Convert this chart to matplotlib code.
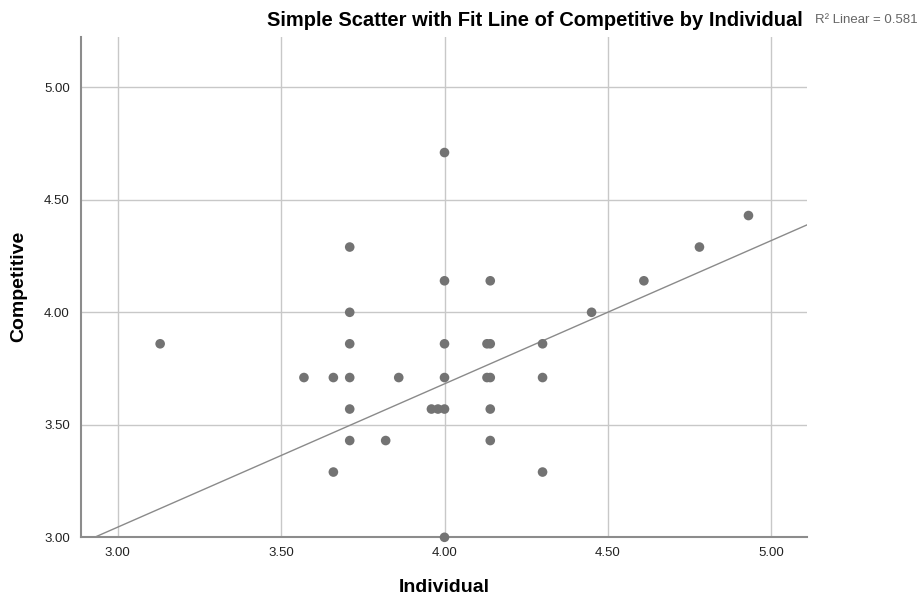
import numpy as np
import matplotlib.pyplot as plt

plt.rcParams['font.family'] = ['Liberation Sans', 'DejaVu Sans']

individual = [3.13, 3.57, 3.66, 3.66, 3.71, 3.71, 3.71, 3.71, 3.71, 3.71,
              3.82, 3.86, 3.96, 3.98, 4.00, 4.00, 4.00, 4.00, 4.00, 4.00,
              4.13, 4.14, 4.13, 4.14, 4.14, 4.14, 4.14, 4.30, 4.30, 4.30,
              4.45, 4.61, 4.78, 4.93]
competitive = [3.86, 3.71, 3.71, 3.29, 4.29, 4.00, 3.86, 3.71, 3.57, 3.43,
               3.43, 3.71, 3.57, 3.57, 4.71, 4.14, 3.86, 3.71, 3.57, 3.00,
               3.86, 3.86, 3.71, 3.71, 4.14, 3.57, 3.43, 3.86, 3.71, 3.29,
               4.00, 4.14, 4.29, 4.43]

# fit line as shown in the chart
fit_intercept = 1.134
fit_slope = 0.637
r2_text = "R\u00b2 Linear = 0.581"

x_ticks = [3.0, 3.5, 4.0, 4.5, 5.0]
y_ticks = [3.0, 3.5, 4.0, 4.5, 5.0]

fig = plt.figure(figsize=(9.22, 6.01), dpi=100)
ax = fig.add_axes([0.0879, 0.106, 0.7877, 0.833])

ax.set_xlim(2.888, 5.110)
ax.set_ylim(3.0, 5.225)

ax.set_xticks(x_ticks)
ax.set_yticks(y_ticks)
ax.set_xticklabels([f"{t:.2f}" for t in x_ticks])
ax.set_yticklabels([f"{t:.2f}" for t in y_ticks])
ax.tick_params(length=0, labelsize=9.5, colors='#222222')
ax.tick_params(axis='x', pad=7)
ax.tick_params(axis='y', pad=8)

ax.grid(True, color='#c8c8c8', linewidth=1.0)
ax.set_axisbelow(True)

for s in ['top', 'right']:
    ax.spines[s].set_visible(False)
for s in ['left', 'bottom']:
    ax.spines[s].set_color('#8c8c8c')
    ax.spines[s].set_linewidth(1.5)

ax.axline((0, fit_intercept), slope=fit_slope, color='#8a8a8a', linewidth=1.0, zorder=2)

ax.scatter(individual, competitive, s=48, color='#737373', edgecolors='none',
           zorder=3, clip_on=False)

fig.text(444 / 922, 1 - 588 / 601, "Individual", ha='center', va='center',
         fontsize=14, fontweight='bold')
fig.text(19 / 922, 1 - 286 / 601, "Competitive", ha='center', va='center',
         rotation=90, fontsize=14, fontweight='bold')

fig.text(535 / 922, 1 - 20 / 601, "Simple Scatter with Fit Line of Competitive by Individual",
         ha='center', va='center', fontsize=14.5, fontweight='bold')
fig.text(918 / 922, 1 - 20 / 601, r2_text, ha='right', va='center', fontsize=9.5,
         color='#666666')

fig.savefig("out.png", dpi=100)
